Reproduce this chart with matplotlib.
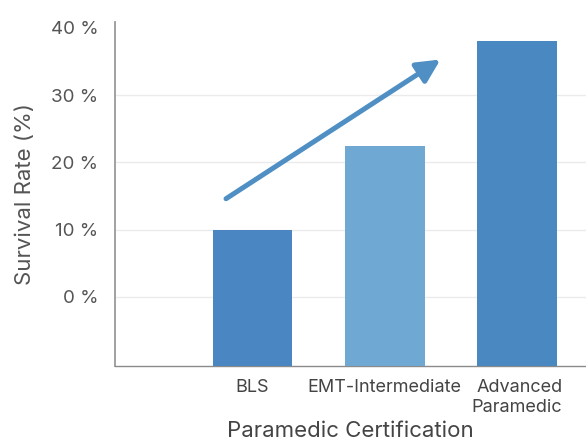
import numpy as np
import matplotlib.pyplot as plt

plt.rcParams['font.family'] = ['Inter', 'DejaVu Sans']

categories = ['BLS', 'EMT-Intermediate', 'Advanced\nParamedic']
survival = [10, 22.5, 38]
colors = ['#4a86c1', '#6ea8d3', '#4a88c2']
yticks = [0, 10, 20, 30, 40]
ytick_labels = ['0 %', '10 %', '20 %', '30 %', '40 %']
# trend arrow (data coords): from tail to tip
arrow_tail = (0.80, 14.6)
arrow_tip = (2.42, 35.3)

ymin, ymax = -10.3, 40.9

fig = plt.figure(figsize=(5.86, 4.46), dpi=100)
ax = fig.add_axes([0.196, 0.179, 0.804, 0.772])

x = np.arange(1, len(categories) + 1)
ax.bar(x, [v - ymin for v in survival], bottom=ymin, width=0.6, color=colors, zorder=3)

ax.set_xlim(-0.04, 3.52)
ax.set_ylim(ymin, ymax)
ax.set_yticks(yticks)
ax.set_yticklabels(ytick_labels, fontsize=13.5, color='#555555')
ax.set_xticks(x)
labels = ax.set_xticklabels(categories, fontsize=13, color='#444444', linespacing=1.25)
labels[2].set_multialignment('right')
ax.tick_params(axis='both', length=0)
ax.tick_params(axis='y', pad=12)
ax.tick_params(axis='x', pad=9)

ax.grid(axis='y', color='#ebebeb', lw=1, zorder=0)
ax.get_ygridlines()[-1].set_visible(False)

for s in ['top', 'right']:
    ax.spines[s].set_visible(False)
ax.spines['left'].set_color('#9a9a9a')
ax.spines['left'].set_linewidth(1.3)
ax.spines['bottom'].set_color('#8a8a8a')
ax.spines['bottom'].set_linewidth(1.0)

ax.set_ylabel('Survival Rate (%)', fontsize=16, color='#555555', labelpad=11)
ax.set_xlabel('Paramedic Certification', fontsize=16, color='#444444', labelpad=4)

ax.annotate('', xy=arrow_tip, xytext=arrow_tail,
            arrowprops=dict(arrowstyle='-|>,head_length=1.4,head_width=0.7',
                            color='#4f8fc3', lw=3.6, shrinkA=0, shrinkB=0),
            zorder=4)

fig.savefig('out.png', dpi=100)
